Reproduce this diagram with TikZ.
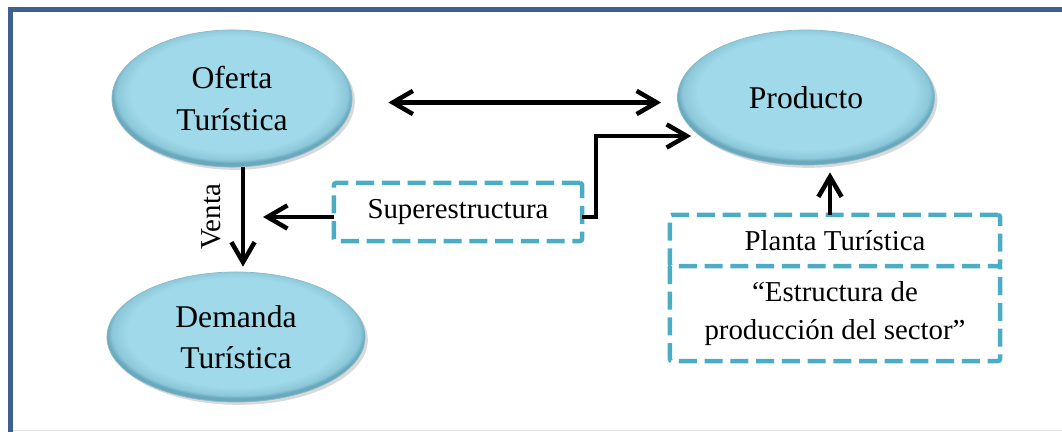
\documentclass[tikz,border=0pt]{standalone}
\usepackage{fontspec}
\setmainfont{Liberation Serif}
\usetikzlibrary{arrows.meta,shapes,positioning,shadows}

\definecolor{ellfill}{HTML}{A0D9E9}
\definecolor{ellmid}{HTML}{8CC8DA}
\definecolor{ellrim}{HTML}{6AA9BD}
\definecolor{dashblue}{HTML}{4BACC6}
\definecolor{frameblue}{HTML}{3D6092}
\pgfdeclareradialshading{ellbevel}{\pgfpoint{0bp}{3bp}}{color(0bp)=(ellfill); color(21bp)=(ellfill); color(24bp)=(ellmid); color(25bp)=(ellrim); color(50bp)=(ellrim)}

\begin{document}
\begin{tikzpicture}[x=0.025cm,y=-0.025cm,>={Straight Barb[length=5mm,width=5.8mm]},
                    line width=3.2pt]
\tikzstyle{ell}=[ellipse,shading=ellbevel,draw=ellrim!80,line width=.5pt,drop shadow={shadow xshift=2pt,shadow yshift=-2pt,opacity=.3},font=\fontsize{22.5}{29.5}\selectfont,align=center,inner sep=0pt]
\tikzstyle{dashes}=[draw=dashblue,dash pattern=on 12.8pt off 5.5pt,rounded corners=1.5pt]
\tikzstyle{dbox}=[rectangle,dashes,font=\fontsize{20.5}{27}\selectfont,align=center,outer sep=0pt]
\tikzstyle{arr}=[->,black]
\useasboundingbox (0,0) rectangle (1062,432);
% frame
\draw[frameblue,line width=3.6pt] (10.5,432) -- (10.5,9.5) -- (1062,9.5);
\draw[gray!20,line width=1pt] (13,430.5) -- (1062,430.5);
% ellipses
\node[ell,minimum width=6cm,minimum height=3.425cm] (oferta) at (232,98.5) {Oferta\\Turística};
\node[ell,minimum width=6.425cm,minimum height=3.375cm] (producto) at (806,97.5) {Producto};
\node[ell,minimum width=6.45cm,minimum height=3.25cm] (demanda) at (236,337) {Demanda\\Turística};
% boxes
\node[dbox,minimum width=6.2cm,minimum height=1.45cm] (super) at (458,212) {Superestructura};
\node[dbox,minimum width=8.25cm,minimum height=1.275cm] (planta) at (835,240.5) {Planta Turística};
\node[dbox,draw=none,minimum width=8.25cm,minimum height=2.375cm] (estructura) [below=0pt of planta] {“Estructura de\\producción del sector”};
\draw[dashes] (estructura.north west) -- (estructura.south west) -- (estructura.south east) -- (estructura.north east);
% connectors
\draw[arr,<->,shorten <=0.9cm,shorten >=0.4cm] ([yshift=-.1cm]oferta.east) -- ([yshift=-.1cm]oferta.east -| producto.west);
\coordinate (vtop) at ([xshift=.275cm]oferta.south);
\draw[arr,shorten >=0.125cm] (vtop) -- (vtop |- demanda.north);
\node[rotate=90,font=\fontsize{20.5}{27}\selectfont] (venta) at (211,217) {Venta};
\draw[arr,shorten >=0.5cm] ([yshift=-.125cm]super.west) -- ([yshift=-.125cm]super.west -| vtop);
\draw[arr] ([yshift=-.125cm]super.east) -- ++(14,0) |- ([shift={(14,38.5)}]producto.west);
\draw[arr,shorten >=0.175cm] ([xshift=-.125cm]planta.north) -- ([xshift=-.125cm]planta.north |- producto.south);
\end{tikzpicture}
\end{document}
